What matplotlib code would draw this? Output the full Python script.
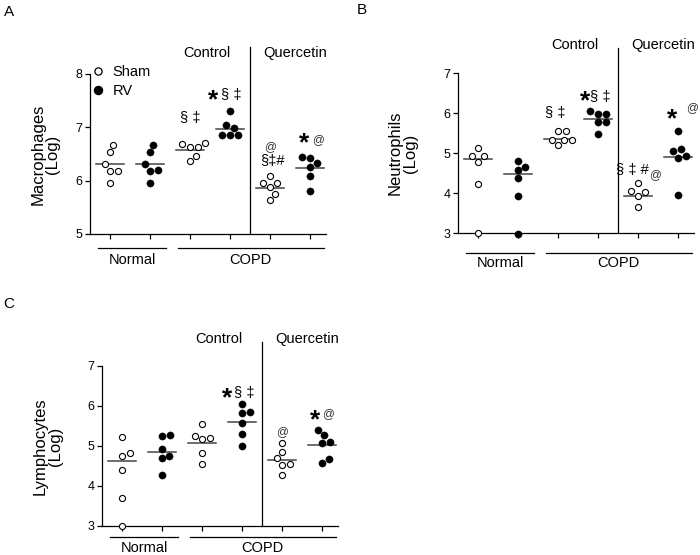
import numpy as np
import matplotlib.pyplot as plt
from matplotlib.lines import Line2D

plt.rcParams['font.family'] = ['Liberation Sans', 'DejaVu Sans']

positions = [1, 2, 3, 4, 5, 6]
group_names = ['Normal', 'COPD']
treat_names = ['Control', 'Quercetin']

# panel A - macrophages (log)
mac_sham_normal = [6.67, 6.53, 6.31, 6.19, 6.19, 5.96]
mac_rv_normal = [6.67, 6.53, 6.31, 6.20, 6.19, 5.96]
mac_sham_ctrl = [6.70, 6.69, 6.64, 6.64, 6.46, 6.37]
mac_rv_ctrl = [7.31, 7.04, 6.99, 6.86, 6.86, 6.86]
mac_sham_querc = [6.08, 5.95, 5.95, 5.89, 5.75, 5.64]
mac_rv_querc = [6.45, 6.43, 6.33, 6.25, 6.08, 5.80]
mac_centre = [6.31, 6.31, 6.58, 6.97, 5.87, 6.23]

# panel B - neutrophils (log)
neu_sham_normal = [5.125, 4.92, 4.92, 4.78, 4.23, 3.0]
neu_rv_normal = [4.79, 4.65, 4.58, 4.375, 3.915, 2.975]
neu_sham_ctrl = [5.54, 5.54, 5.33, 5.33, 5.33, 5.21]
neu_rv_ctrl = [6.04, 5.98, 5.98, 5.77, 5.77, 5.48]
neu_sham_querc = [4.25, 4.04, 4.015, 3.93, 3.64]
neu_rv_querc = [5.54, 5.10, 5.04, 4.915, 4.875, 3.96]
neu_centre = [4.84, 4.475, 5.35, 5.85, 3.93, 4.91]

# panel C - lymphocytes (log)
lym_sham_normal = [5.23, 4.82, 4.76, 4.40, 3.69, 3.0]
lym_rv_normal = [5.275, 5.26, 4.92, 4.76, 4.69, 4.275]
lym_sham_ctrl = [5.54, 5.25, 5.21, 5.17, 4.82, 4.55]
lym_rv_ctrl = [6.05, 5.86, 5.83, 5.57, 5.29, 5.0]
lym_sham_querc = [5.07, 4.86, 4.69, 4.55, 4.525, 4.275]
lym_rv_querc = [5.40, 5.275, 5.11, 5.08, 4.67, 4.58]
lym_centre = [4.63, 4.86, 5.08, 5.59, 4.66, 5.025]


def swarm_x(ax, x0, vals, d=8.0):
    # simple beeswarm in pixel space
    pts = ax.transData.transform(np.column_stack([np.full(len(vals), x0), vals]))
    order = np.argsort(pts[:, 1])
    placed = []
    offs = np.zeros(len(vals))
    for i in order:
        y = pts[i, 1]
        cands = [0.0]
        for px, py in placed:
            dy = y - py
            if abs(dy) < d:
                dx = np.sqrt(d * d - dy * dy)
                cands += [px + dx, px - dx]
        cands.sort(key=abs)
        for c in cands:
            if all((c - px) ** 2 + (y - py) ** 2 >= d * d - 1e-6 for px, py in placed):
                break
        placed.append((c, y))
        offs[i] = c
    scale = ax.transData.transform((1, 0))[0] - ax.transData.transform((0, 0))[0]
    return x0 + offs / scale


def panel(rect, groups, centre, ylim, yticks, ylabel, lab_x, letter, letter_xy,
          head_y, div_top, grp_y, grp_txt_y):
    ax = fig.add_axes(rect)
    ax.set_xlim(0.5, 6.4)
    ax.set_ylim(*ylim)
    for s in ['top', 'right']:
        ax.spines[s].set_visible(False)
    for s in ['left', 'bottom']:
        ax.spines[s].set_linewidth(0.9)
    ax.set_xticks(positions)
    ax.set_xticklabels([])
    ax.set_yticks(yticks)
    ax.tick_params(direction='out', length=3.5, width=0.9, labelsize=9, pad=2)

    for k, vals in enumerate(groups):
        xs = swarm_x(ax, positions[k], vals)
        if k % 2 == 0:
            ax.plot(xs, vals, 'o', ms=4.4, mfc='white', mec='black', mew=0.8,
                    clip_on=False, zorder=3)
        else:
            ax.plot(xs, vals, 'o', ms=5.2, mfc='black', mec='black', mew=0.3,
                    clip_on=False, zorder=3)
        ax.plot([positions[k] - 0.34, positions[k] + 0.34], [centre[k]] * 2,
                color='#444444', lw=1.1, zorder=2)

    tr = ax.get_xaxis_transform()
    ax.plot([4.5, 4.5], [0, div_top], transform=tr, color='black', lw=0.9, clip_on=False)
    ax.text(3.42, head_y, treat_names[0], transform=tr, ha='center', va='center', fontsize=10.5)
    ax.text(5.62, head_y, treat_names[1], transform=tr, ha='center', va='center', fontsize=10.5)
    ax.plot([0.7, 2.4], [grp_y] * 2, transform=tr, color='black', lw=0.9, clip_on=False)
    ax.plot([2.7, 6.35], [grp_y] * 2, transform=tr, color='black', lw=0.9, clip_on=False)
    ax.text(1.56, grp_txt_y, group_names[0], transform=tr, ha='center', va='center', fontsize=10.5)
    ax.text(4.52, grp_txt_y, group_names[1], transform=tr, ha='center', va='center', fontsize=10.5)

    ax.text(lab_x, 0.5, ylabel, transform=ax.transAxes, rotation=90, ha='center',
            va='center', multialignment='center', fontsize=12, linespacing=1.0)
    fig.text(letter_xy[0] / 700, 1 - letter_xy[1] / 555, letter, ha='center', va='center',
             fontsize=11)
    return ax


def star(ax, x, y):
    ax.text(x, y, '*', ha='center', va='center', fontsize=19, fontweight='bold', clip_on=False)


def mark(ax, x, y, s, size=10.5, color='black'):
    ax.text(x, y, s, ha='center', va='center', fontsize=size, color=color, clip_on=False)


fig = plt.figure(figsize=(7, 5.55), dpi=100)

# A
axA = panel([90 / 700, 321 / 555, 236 / 700, 160 / 555],
            [mac_sham_normal, mac_rv_normal, mac_sham_ctrl, mac_rv_ctrl, mac_sham_querc, mac_rv_querc],
            mac_centre, (5, 8), [5, 6, 7, 8], 'Macrophages\n(Log)', -0.19, 'A', (9, 12),
            1.131, 1.169, -0.0875, -0.1625)
mark(axA, 3.0, 7.17, '§ ‡')
star(axA, 3.575, 7.5)
mark(axA, 4.03, 7.6, '§ ‡')
mark(axA, 5.0, 6.63, '@', 8.5, '#333333')
mark(axA, 5.05, 6.37, '§‡#')
star(axA, 5.85, 6.7)
mark(axA, 6.2, 6.76, '@', 8.5, '#333333')
h_sham = Line2D([], [], ls='none', marker='o', ms=5.2, mfc='white', mec='black', mew=0.9)
h_rv = Line2D([], [], ls='none', marker='o', ms=5.8, mfc='black', mec='black')
axA.legend([h_sham, h_rv], ['Sham', 'RV'], loc='upper left', bbox_to_anchor=(0.01, 1.055),
           frameon=False, fontsize=10.5, handlelength=0.8, handletextpad=0.6,
           borderpad=0, borderaxespad=0, labelspacing=0.35)

# B
axB = panel([458 / 700, 322 / 555, 236 / 700, 160 / 555],
            [neu_sham_normal, neu_rv_normal, neu_sham_ctrl, neu_rv_ctrl, neu_sham_querc, neu_rv_querc],
            neu_centre, (3, 7), [3, 4, 5, 6, 7], 'Neutrophils\n(Log)', -0.235, 'B', (362, 10),
            1.175, 1.156, -0.125, -0.1875)
mark(axB, 2.925, 6.0, '§ ‡')
star(axB, 3.675, 6.3)
mark(axB, 4.05, 6.4, '§ ‡')
mark(axB, 4.87, 4.575, '§ ‡ #')
mark(axB, 5.42, 4.46, '@', 8.5, '#333333')
star(axB, 5.85, 5.85)
mark(axB, 6.35, 6.125, '@', 8.5, '#333333')

# C
axC = panel([102 / 700, 29 / 555, 236 / 700, 160 / 555],
            [lym_sham_normal, lym_rv_normal, lym_sham_ctrl, lym_rv_ctrl, lym_sham_querc, lym_rv_querc],
            lym_centre, (3, 7), [3, 4, 5, 6, 7], 'Lymphocytes\n(Log)', -0.23, 'C', (9, 304),
            1.169, 1.15, -0.069, -0.1375)
star(axC, 3.625, 6.2)
mark(axC, 4.05, 6.325, '§ ‡')
mark(axC, 4.99, 5.36, '@', 8.5, '#333333')
star(axC, 5.825, 5.63)
mark(axC, 6.15, 5.8, '@', 8.5, '#333333')

fig.savefig('out.png', dpi=100)
